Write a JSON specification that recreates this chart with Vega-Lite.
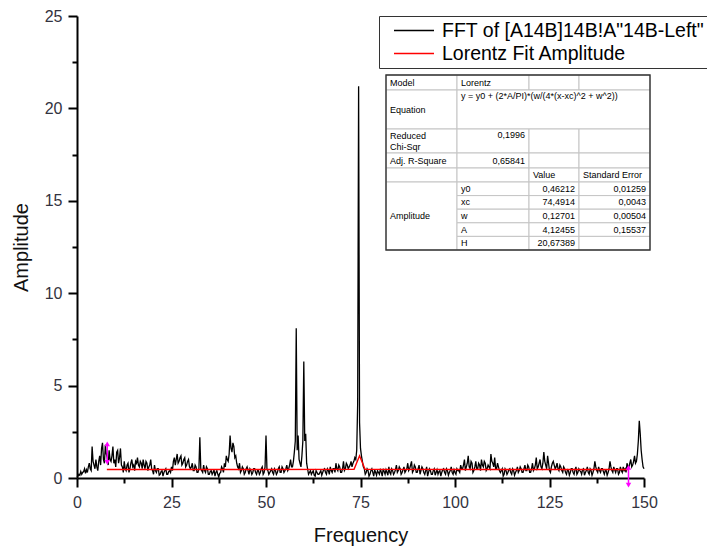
{
  "$schema": "https://vega.github.io/schema/vega-lite/v6.json",
  "width": 567,
  "height": 462,
  "autosize": {"type": "none"},
  "padding": {"left": 77, "top": 16, "right": 63, "bottom": 69},
  "background": "white",
  "config": {"view": {"stroke": null}, "font": "Liberation Sans"},
  "datasets": {
    "fft": [
      {"f":0,"a":0.05},{"f":0.5,"a":0.2},{"f":1,"a":0.35},{"f":1.5,"a":0.3},{"f":2,"a":0.5},{"f":2.5,"a":0.45},{"f":3,"a":0.6},{"f":3.5,"a":0.5},{"f":4,"a":1.7},{"f":4.5,"a":0.7},
      {"f":5,"a":1.0},{"f":5.5,"a":0.4},{"f":6,"a":1.2},{"f":6.5,"a":1.6},{"f":7,"a":1.0},{"f":7.5,"a":1.8},{"f":8,"a":1.1},{"f":8.5,"a":1.5},{"f":9,"a":0.9},{"f":9.5,"a":1.7},
      {"f":10,"a":1.0},{"f":10.5,"a":1.4},{"f":11,"a":0.8},{"f":11.5,"a":1.6},{"f":12,"a":0.6},{"f":12.5,"a":0.9},{"f":13,"a":0.4},{"f":13.5,"a":0.8},{"f":14,"a":0.5},{"f":14.5,"a":1.0},
      {"f":15,"a":0.7},{"f":15.5,"a":0.9},{"f":16,"a":1.1},{"f":16.5,"a":0.6},{"f":17,"a":0.8},{"f":17.5,"a":1.0},{"f":18,"a":0.5},{"f":18.5,"a":0.8},{"f":19,"a":0.6},{"f":19.5,"a":1.0},
      {"f":20,"a":0.4},{"f":20.5,"a":0.7},{"f":21,"a":0.3},{"f":21.5,"a":0.5},{"f":22,"a":0.2},{"f":22.5,"a":0.4},{"f":23,"a":0.3},{"f":23.5,"a":0.5},{"f":24,"a":0.2},{"f":24.5,"a":0.4},
      {"f":25,"a":0.6},{"f":25.5,"a":0.9},{"f":26,"a":0.7},{"f":26.5,"a":1.3},{"f":27,"a":0.9},{"f":27.5,"a":1.2},{"f":28,"a":0.8},{"f":28.5,"a":1.1},{"f":29,"a":0.7},{"f":29.5,"a":1.0},
      {"f":30,"a":0.5},{"f":30.5,"a":0.8},{"f":31,"a":0.4},{"f":31.5,"a":0.6},{"f":32,"a":0.3},{"f":32.5,"a":2.2},{"f":33,"a":0.4},{"f":33.5,"a":0.7},{"f":34,"a":0.3},{"f":34.5,"a":0.5},
      {"f":35,"a":0.2},{"f":35.5,"a":0.4},{"f":36,"a":0.3},{"f":36.5,"a":0.1},{"f":37,"a":0.4},{"f":37.5,"a":0.05},{"f":38,"a":0.3},{"f":38.5,"a":0.5},{"f":39,"a":0.8},{"f":39.5,"a":1.2},
      {"f":40,"a":0.9},{"f":40.5,"a":2.3},{"f":41,"a":1.4},{"f":41.5,"a":1.7},{"f":42,"a":1.2},{"f":42.5,"a":0.6},{"f":43,"a":0.8},{"f":43.5,"a":0.4},{"f":44,"a":0.5},{"f":44.5,"a":0.3},
      {"f":45,"a":0.6},{"f":45.5,"a":0.2},{"f":46,"a":0.4},{"f":46.5,"a":0.3},{"f":47,"a":0.5},{"f":47.5,"a":0.2},{"f":48,"a":0.4},{"f":48.5,"a":0.3},{"f":49,"a":0.6},{"f":49.5,"a":0.3},
      {"f":50,"a":2.3},{"f":50.5,"a":0.4},{"f":51,"a":0.3},{"f":51.5,"a":0.5},{"f":52,"a":0.2},{"f":52.5,"a":0.4},{"f":53,"a":0.3},{"f":53.5,"a":0.6},{"f":54,"a":0.3},{"f":54.5,"a":0.5},
      {"f":55,"a":0.4},{"f":55.5,"a":0.7},{"f":56,"a":0.5},{"f":56.5,"a":1.0},{"f":57,"a":0.6},{"f":57.5,"a":1.4},{"f":58,"a":8.1},{"f":58.5,"a":2.3},{"f":59,"a":0.8},{"f":59.5,"a":1.2},
      {"f":60,"a":6.3},{"f":60.5,"a":2.4},{"f":61,"a":0.5},{"f":61.5,"a":0.3},{"f":62,"a":0.2},{"f":62.5,"a":0.4},{"f":63,"a":0.1},{"f":63.5,"a":0.3},{"f":64,"a":0.2},{"f":64.5,"a":0.4},
      {"f":65,"a":0.3},{"f":65.5,"a":0.5},{"f":66,"a":0.2},{"f":66.5,"a":0.4},{"f":67,"a":0.6},{"f":67.5,"a":0.3},{"f":68,"a":0.5},{"f":68.5,"a":0.8},{"f":69,"a":0.4},{"f":69.5,"a":0.6},
      {"f":70,"a":0.3},{"f":70.5,"a":0.9},{"f":71,"a":0.5},{"f":71.5,"a":0.7},{"f":72,"a":0.6},{"f":72.5,"a":0.9},{"f":73,"a":0.8},{"f":73.5,"a":1.1},{"f":74,"a":1.5},{"f":74.25,"a":4.0},
      {"f":74.5,"a":21.2},{"f":74.75,"a":3.0},{"f":75,"a":1.6},{"f":75.5,"a":0.9},{"f":76,"a":0.5},{"f":76.5,"a":0.3},{"f":77,"a":0.4},{"f":77.5,"a":0.2},{"f":78,"a":0.5},{"f":78.5,"a":0.1},
      {"f":79,"a":0.3},{"f":79.5,"a":0.4},{"f":80,"a":0.2},{"f":80.5,"a":0.3},{"f":81,"a":0.5},{"f":81.5,"a":0.2},{"f":82,"a":0.3},{"f":82.5,"a":0.6},{"f":83,"a":0.2},{"f":83.5,"a":0.4},
      {"f":84,"a":0.3},{"f":84.5,"a":0.7},{"f":85,"a":0.4},{"f":85.5,"a":0.5},{"f":86,"a":0.3},{"f":86.5,"a":0.6},{"f":87,"a":0.4},{"f":87.5,"a":0.8},{"f":88,"a":0.5},{"f":88.5,"a":0.9},
      {"f":89,"a":0.4},{"f":89.5,"a":0.6},{"f":90,"a":0.3},{"f":90.5,"a":0.7},{"f":91,"a":0.4},{"f":91.5,"a":0.5},{"f":92,"a":0.2},{"f":92.5,"a":0.6},{"f":93,"a":0.3},{"f":93.5,"a":0.4},
      {"f":94,"a":0.2},{"f":94.5,"a":0.5},{"f":95,"a":0.3},{"f":95.5,"a":0.2},{"f":96,"a":0.4},{"f":96.5,"a":0.3},{"f":97,"a":0.5},{"f":97.5,"a":0.2},{"f":98,"a":0.4},{"f":98.5,"a":0.3},
      {"f":99,"a":0.6},{"f":99.5,"a":0.2},{"f":100,"a":0.3},{"f":100.5,"a":0.5},{"f":101,"a":0.4},{"f":101.5,"a":0.7},{"f":102,"a":0.5},{"f":102.5,"a":1.0},{"f":103,"a":0.6},{"f":103.5,"a":1.2},
      {"f":104,"a":0.5},{"f":104.5,"a":0.8},{"f":105,"a":0.4},{"f":105.5,"a":0.9},{"f":106,"a":0.5},{"f":106.5,"a":0.7},{"f":107,"a":1.0},{"f":107.5,"a":0.6},{"f":108,"a":0.8},{"f":108.5,"a":0.5},
      {"f":109,"a":0.6},{"f":109.5,"a":1.3},{"f":110,"a":0.8},{"f":110.5,"a":1.1},{"f":111,"a":0.5},{"f":111.5,"a":0.6},{"f":112,"a":0.3},{"f":112.5,"a":0.5},{"f":113,"a":0.2},{"f":113.5,"a":0.4},
      {"f":114,"a":0.3},{"f":114.5,"a":0.5},{"f":115,"a":0.2},{"f":115.5,"a":0.4},{"f":116,"a":0.3},{"f":116.5,"a":0.6},{"f":117,"a":0.4},{"f":117.5,"a":0.5},{"f":118,"a":0.3},{"f":118.5,"a":0.7},
      {"f":119,"a":0.4},{"f":119.5,"a":0.6},{"f":120,"a":0.3},{"f":120.5,"a":0.8},{"f":121,"a":0.5},{"f":121.5,"a":1.1},{"f":122,"a":0.6},{"f":122.5,"a":1.0},{"f":123,"a":0.5},{"f":123.5,"a":1.4},
      {"f":124,"a":0.7},{"f":124.5,"a":1.2},{"f":125,"a":0.4},{"f":125.5,"a":0.6},{"f":126,"a":0.9},{"f":126.5,"a":0.5},{"f":127,"a":0.8},{"f":127.5,"a":0.4},{"f":128,"a":0.6},{"f":128.5,"a":0.3},
      {"f":129,"a":0.5},{"f":129.5,"a":0.2},{"f":130,"a":0.4},{"f":130.5,"a":0.3},{"f":131,"a":0.5},{"f":131.5,"a":0.2},{"f":132,"a":0.6},{"f":132.5,"a":0.3},{"f":133,"a":0.4},{"f":133.5,"a":0.2},
      {"f":134,"a":0.5},{"f":134.5,"a":0.3},{"f":135,"a":0.6},{"f":135.5,"a":0.2},{"f":136,"a":0.4},{"f":136.5,"a":0.3},{"f":137,"a":0.9},{"f":137.5,"a":0.4},{"f":138,"a":0.6},{"f":138.5,"a":0.3},
      {"f":139,"a":0.5},{"f":139.5,"a":0.2},{"f":140,"a":0.4},{"f":140.5,"a":0.3},{"f":141,"a":0.9},{"f":141.5,"a":0.4},{"f":142,"a":0.6},{"f":142.5,"a":0.3},{"f":143,"a":0.5},{"f":143.5,"a":0.3},
      {"f":144,"a":0.4},{"f":144.5,"a":0.6},{"f":145,"a":0.5},{"f":145.5,"a":0.8},{"f":146,"a":0.6},{"f":146.5,"a":1.0},{"f":147,"a":0.7},{"f":147.5,"a":1.2},{"f":148,"a":0.9},{"f":148.5,"a":2.0},
      {"f":148.75,"a":3.1},{"f":149,"a":2.4},{"f":149.5,"a":1.0},{"f":150,"a":0.5},
      {"f":0.25,"a":0.1},{"f":0.75,"a":0.15},{"f":1.25,"a":0.2},{"f":1.75,"a":0.35},{"f":2.25,"a":0.25},{"f":2.75,"a":0.3},{"f":3.25,"a":0.8},{"f":3.75,"a":0.4},{"f":4.25,"a":0.9},{"f":4.75,"a":0.5},
      {"f":5.25,"a":0.6},{"f":5.75,"a":0.9},{"f":6.25,"a":0.7},{"f":6.75,"a":1.9},{"f":7.25,"a":0.8},{"f":7.75,"a":1.3},{"f":8.25,"a":0.7},{"f":8.75,"a":1.0},{"f":9.25,"a":1.2},{"f":9.75,"a":0.8},
      {"f":10.25,"a":0.6},{"f":10.75,"a":1.5},{"f":11.25,"a":1.1},{"f":11.75,"a":0.7},{"f":12.25,"a":0.3},{"f":12.75,"a":0.5},{"f":13.25,"a":0.7},{"f":13.75,"a":0.3},{"f":14.25,"a":0.8},{"f":14.75,"a":0.6},
      {"f":15.25,"a":0.4},{"f":15.75,"a":0.8},{"f":16.25,"a":0.7},{"f":16.75,"a":0.9},{"f":17.25,"a":0.5},{"f":17.75,"a":0.7},{"f":18.25,"a":0.9},{"f":18.75,"a":0.4},{"f":19.25,"a":0.7},{"f":19.75,"a":0.5},
      {"f":20.25,"a":0.2},{"f":20.75,"a":0.4},{"f":21.25,"a":0.5},{"f":21.75,"a":0.15},{"f":22.25,"a":0.35},{"f":22.75,"a":0.1},{"f":23.25,"a":0.4},{"f":23.75,"a":0.2},{"f":24.25,"a":0.35},{"f":24.75,"a":0.3},
      {"f":25.25,"a":0.4},{"f":25.75,"a":1.1},{"f":26.25,"a":1.0},{"f":26.75,"a":0.8},{"f":27.25,"a":1.1},{"f":27.75,"a":0.7},{"f":28.25,"a":1.0},{"f":28.75,"a":0.6},{"f":29.25,"a":0.9},{"f":29.75,"a":0.6},
      {"f":30.25,"a":0.6},{"f":30.75,"a":0.4},{"f":31.25,"a":0.7},{"f":31.75,"a":0.3},{"f":32.25,"a":0.5},{"f":32.75,"a":0.5},{"f":33.25,"a":0.3},{"f":33.75,"a":0.4},{"f":34.25,"a":0.6},{"f":34.75,"a":0.2},
      {"f":35.25,"a":0.35},{"f":35.75,"a":0.2},{"f":36.25,"a":0.45},{"f":36.75,"a":0.3},{"f":37.25,"a":0.2},{"f":37.75,"a":0.25},{"f":38.25,"a":0.6},{"f":38.75,"a":0.3},{"f":39.25,"a":0.6},{"f":39.75,"a":1.0},
      {"f":40.25,"a":1.3},{"f":40.75,"a":1.6},{"f":41.25,"a":1.9},{"f":41.75,"a":1.1},{"f":42.25,"a":0.8},{"f":42.75,"a":0.5},{"f":43.25,"a":0.3},{"f":43.75,"a":0.6},{"f":44.25,"a":0.2},{"f":44.75,"a":0.5},
      {"f":45.25,"a":0.4},{"f":45.75,"a":0.5},{"f":46.25,"a":0.2},{"f":46.75,"a":0.5},{"f":47.25,"a":0.3},{"f":47.75,"a":0.4},{"f":48.25,"a":0.2},{"f":48.75,"a":0.5},{"f":49.25,"a":0.2},{"f":49.75,"a":0.6},
      {"f":50.25,"a":0.5},{"f":50.75,"a":0.2},{"f":51.25,"a":0.4},{"f":51.75,"a":0.3},{"f":52.25,"a":0.5},{"f":52.75,"a":0.2},{"f":53.25,"a":0.5},{"f":53.75,"a":0.3},{"f":54.25,"a":0.6},{"f":54.75,"a":0.3},
      {"f":55.25,"a":0.5},{"f":55.75,"a":0.4},{"f":56.25,"a":0.7},{"f":56.75,"a":0.6},{"f":57.25,"a":0.9},{"f":57.75,"a":2.0},{"f":58.25,"a":1.5},{"f":58.75,"a":1.0},{"f":59.25,"a":0.6},{"f":59.75,"a":2.0},
      {"f":60.25,"a":2.0},{"f":60.75,"a":0.8},{"f":61.25,"a":0.2},{"f":61.75,"a":0.4},{"f":62.25,"a":0.3},{"f":62.75,"a":0.15},{"f":63.25,"a":0.4},{"f":63.75,"a":0.2},{"f":64.25,"a":0.3},{"f":64.75,"a":0.15},
      {"f":65.25,"a":0.45},{"f":65.75,"a":0.3},{"f":66.25,"a":0.5},{"f":66.75,"a":0.2},{"f":67.25,"a":0.4},{"f":67.75,"a":0.5},{"f":68.25,"a":0.3},{"f":68.75,"a":0.5},{"f":69.25,"a":0.7},{"f":69.75,"a":0.3},
      {"f":70.25,"a":0.5},{"f":70.75,"a":0.4},{"f":71.25,"a":0.8},{"f":71.75,"a":0.5},{"f":72.25,"a":0.7},{"f":72.75,"a":0.6},{"f":73.25,"a":0.9},{"f":73.75,"a":1.0},{"f":75.25,"a":1.2},{"f":75.75,"a":0.6},
      {"f":76.25,"a":0.2},{"f":76.75,"a":0.5},{"f":77.25,"a":0.1},{"f":77.75,"a":0.4},{"f":78.25,"a":0.3},{"f":78.75,"a":0.45},{"f":79.25,"a":0.15},{"f":79.75,"a":0.3},{"f":80.25,"a":0.5},{"f":80.75,"a":0.1},
      {"f":81.25,"a":0.35},{"f":81.75,"a":0.45},{"f":82.25,"a":0.15},{"f":82.75,"a":0.3},{"f":83.25,"a":0.5},{"f":83.75,"a":0.2},{"f":84.25,"a":0.45},{"f":84.75,"a":0.3},{"f":85.25,"a":0.6},{"f":85.75,"a":0.2},
      {"f":86.25,"a":0.45},{"f":86.75,"a":0.3},{"f":87.25,"a":0.5},{"f":87.75,"a":0.4},{"f":88.25,"a":0.7},{"f":88.75,"a":0.3},{"f":89.25,"a":0.7},{"f":89.75,"a":0.3},{"f":90.25,"a":0.5},{"f":90.75,"a":0.2},
      {"f":91.25,"a":0.6},{"f":91.75,"a":0.3},{"f":92.25,"a":0.4},{"f":92.75,"a":0.1},{"f":93.25,"a":0.5},{"f":93.75,"a":0.2},{"f":94.25,"a":0.4},{"f":94.75,"a":0.15},{"f":95.25,"a":0.45},{"f":95.75,"a":0.35},
      {"f":96.25,"a":0.1},{"f":96.75,"a":0.45},{"f":97.25,"a":0.3},{"f":97.75,"a":0.5},{"f":98.25,"a":0.15},{"f":98.75,"a":0.4},{"f":99.25,"a":0.3},{"f":99.75,"a":0.45},{"f":100.25,"a":0.2},{"f":100.75,"a":0.4},
      {"f":101.25,"a":0.3},{"f":101.75,"a":0.5},{"f":102.25,"a":0.7},{"f":102.75,"a":0.4},{"f":103.25,"a":0.8},{"f":103.75,"a":0.6},{"f":104.25,"a":0.9},{"f":104.75,"a":0.3},{"f":105.25,"a":0.6},{"f":105.75,"a":0.5},
      {"f":106.25,"a":0.8},{"f":106.75,"a":0.4},{"f":107.25,"a":0.7},{"f":107.75,"a":0.9},{"f":108.25,"a":0.4},{"f":108.75,"a":0.7},{"f":109.25,"a":0.5},{"f":109.75,"a":0.9},{"f":110.25,"a":0.6},{"f":110.75,"a":0.5},
      {"f":111.25,"a":0.8},{"f":111.75,"a":0.4},{"f":112.25,"a":0.4},{"f":112.75,"a":0.1},{"f":113.25,"a":0.5},{"f":113.75,"a":0.2},{"f":114.25,"a":0.45},{"f":114.75,"a":0.3},{"f":115.25,"a":0.5},{"f":115.75,"a":0.15},
      {"f":116.25,"a":0.4},{"f":116.75,"a":0.3},{"f":117.25,"a":0.6},{"f":117.75,"a":0.3},{"f":118.25,"a":0.5},{"f":118.75,"a":0.4},{"f":119.25,"a":0.7},{"f":119.75,"a":0.3},{"f":120.25,"a":0.5},{"f":120.75,"a":0.4},
      {"f":121.25,"a":0.7},{"f":121.75,"a":0.5},{"f":122.25,"a":0.8},{"f":122.75,"a":0.6},{"f":123.25,"a":0.8},{"f":123.75,"a":0.9},{"f":124.25,"a":0.5},{"f":124.75,"a":0.8},{"f":125.25,"a":0.3},{"f":125.75,"a":0.8},
      {"f":126.25,"a":0.7},{"f":126.75,"a":0.6},{"f":127.25,"a":0.5},{"f":127.75,"a":0.7},{"f":128.25,"a":0.4},{"f":128.75,"a":0.6},{"f":129.25,"a":0.3},{"f":129.75,"a":0.45},{"f":130.25,"a":0.15},{"f":130.75,"a":0.5},
      {"f":131.25,"a":0.3},{"f":131.75,"a":0.45},{"f":132.25,"a":0.2},{"f":132.75,"a":0.5},{"f":133.25,"a":0.35},{"f":133.75,"a":0.45},{"f":134.25,"a":0.15},{"f":134.75,"a":0.4},{"f":135.25,"a":0.3},{"f":135.75,"a":0.5},
      {"f":136.25,"a":0.15},{"f":136.75,"a":0.5},{"f":137.25,"a":0.6},{"f":137.75,"a":0.3},{"f":138.25,"a":0.4},{"f":138.75,"a":0.5},{"f":139.25,"a":0.35},{"f":139.75,"a":0.4},{"f":140.25,"a":0.15},{"f":140.75,"a":0.5},
      {"f":141.25,"a":0.6},{"f":141.75,"a":0.3},{"f":142.25,"a":0.45},{"f":142.75,"a":0.5},{"f":143.25,"a":0.2},{"f":143.75,"a":0.6},{"f":144.25,"a":0.3},{"f":144.75,"a":0.4},{"f":145.25,"a":0.3},{"f":145.75,"a":0.6},
      {"f":146.25,"a":0.8},{"f":146.75,"a":0.6},{"f":147.25,"a":0.9},{"f":147.75,"a":0.8},{"f":148.25,"a":1.3},{"f":149.25,"a":1.5},{"f":149.75,"a":0.6}
    ],
    "fit": [
      {"f":7.9,"a":0.46,"s":"Lorentz Fit Amplitude"},{"f":40,"a":0.46,"s":"Lorentz Fit Amplitude"},{"f":73.3,"a":0.47,"s":"Lorentz Fit Amplitude"},
      {"f":74.75,"a":1.2,"s":"Lorentz Fit Amplitude"},{"f":76.2,"a":0.47,"s":"Lorentz Fit Amplitude"},{"f":110,"a":0.46,"s":"Lorentz Fit Amplitude"},
      {"f":145.9,"a":0.46,"s":"Lorentz Fit Amplitude"}
    ],
    "markers": [
      {"f":8.0,"lo":0.84,"hi":1.84},
      {"f":145.9,"lo":-0.38,"hi":0.57}
    ],
    "cells": [
      {"c0":0,"c1":1,"r0":0,"r1":1},{"c0":1,"c1":2,"r0":0,"r1":1},{"c0":2,"c1":3,"r0":0,"r1":1},{"c0":3,"c1":4,"r0":0,"r1":1},
      {"c0":0,"c1":1,"r0":1,"r1":2},{"c0":1,"c1":4,"r0":1,"r1":2},
      {"c0":0,"c1":1,"r0":2,"r1":3},{"c0":1,"c1":2,"r0":2,"r1":3},{"c0":2,"c1":3,"r0":2,"r1":3},{"c0":3,"c1":4,"r0":2,"r1":3},
      {"c0":0,"c1":1,"r0":3,"r1":4},{"c0":1,"c1":2,"r0":3,"r1":4},{"c0":2,"c1":3,"r0":3,"r1":4},{"c0":3,"c1":4,"r0":3,"r1":4},
      {"c0":0,"c1":1,"r0":4,"r1":5},{"c0":1,"c1":2,"r0":4,"r1":5},{"c0":2,"c1":3,"r0":4,"r1":5},{"c0":3,"c1":4,"r0":4,"r1":5},
      {"c0":0,"c1":1,"r0":5,"r1":10},
      {"c0":1,"c1":2,"r0":5,"r1":6},{"c0":2,"c1":3,"r0":5,"r1":6},{"c0":3,"c1":4,"r0":5,"r1":6},
      {"c0":1,"c1":2,"r0":6,"r1":7},{"c0":2,"c1":3,"r0":6,"r1":7},{"c0":3,"c1":4,"r0":6,"r1":7},
      {"c0":1,"c1":2,"r0":7,"r1":8},{"c0":2,"c1":3,"r0":7,"r1":8},{"c0":3,"c1":4,"r0":7,"r1":8},
      {"c0":1,"c1":2,"r0":8,"r1":9},{"c0":2,"c1":3,"r0":8,"r1":9},{"c0":3,"c1":4,"r0":8,"r1":9},
      {"c0":1,"c1":2,"r0":9,"r1":10},{"c0":2,"c1":3,"r0":9,"r1":10},{"c0":3,"c1":4,"r0":9,"r1":10}
    ],
    "frame": [{"c0":0,"c1":4,"r0":0,"r1":10}],
    "txtL": [
      {"c":0,"r":0.5,"t":"Model"},{"c":1,"r":0.5,"t":"Lorentz"},{"c":0,"r":1.5,"t":"Equation"},
      {"c":0,"r":2.3,"t":"Reduced"},{"c":0,"r":2.75,"t":"Chi-Sqr"},{"c":0,"r":3.5,"t":"Adj. R-Square"},
      {"c":2,"r":4.5,"t":"Value"},{"c":3,"r":4.5,"t":"Standard Error"},
      {"c":0,"r":7.5,"t":"Amplitude"},
      {"c":1,"r":5.5,"t":"y0"},{"c":1,"r":6.5,"t":"xc"},{"c":1,"r":7.5,"t":"w"},{"c":1,"r":8.5,"t":"A"},{"c":1,"r":9.5,"t":"H"}
    ],
    "txtR": [
      {"c":2,"r":3.5,"t":"0,65841"},
      {"c":3,"r":5.5,"t":"0,46212"},{"c":3,"r":6.5,"t":"74,4914"},{"c":3,"r":7.5,"t":"0,12701"},{"c":3,"r":8.5,"t":"4,12455"},{"c":3,"r":9.5,"t":"20,67389"},
      {"c":4,"r":5.5,"t":"0,01259"},{"c":4,"r":6.5,"t":"0,0043"},{"c":4,"r":7.5,"t":"0,00504"},{"c":4,"r":8.5,"t":"0,15537"}
    ],
    "txtLT": [{"c":1,"r":1,"t":"y = y0 + (2*A/PI)*(w/(4*(x-xc)^2 + w^2))"}],
    "txtRT": [{"c":2,"r":2,"t":"0,1996"}]
  },
  "layer": [
    {
      "layer": [
        {
          "data": {"name": "fft"},
          "mark": {"type": "line", "strokeWidth": 1.3, "color": "#000000"},
          "encoding": {
            "x": {"field": "f", "type": "quantitative",
              "scale": {"domain": [0, 150], "nice": false, "zero": false},
              "axis": {"orient": "bottom", "values": [0, 25, 50, 75, 100, 125, 150], "grid": false, "labelFlush": false,
                "domainColor": "#000", "domainWidth": 2, "tickColor": "#000", "tickWidth": 2, "tickSize": 9,
                "labelFontSize": 16, "labelFont": "Liberation Sans", "labelColor": "#333340", "labelPadding": 7,
                "title": "Frequency", "titleFontSize": 20, "titleFont": "Liberation Sans", "titleFontWeight": "normal",
                "titleColor": "#111", "titlePadding": 15}},
            "y": {"field": "a", "type": "quantitative",
              "scale": {"domain": [0, 25], "nice": false, "zero": false},
              "axis": {"orient": "left", "values": [0, 5, 10, 15, 20, 25], "grid": false, "labelFlush": false,
                "domainColor": "#000", "domainWidth": 2, "tickColor": "#000", "tickWidth": 2, "tickSize": 9,
                "labelFontSize": 16, "labelFont": "Liberation Sans", "labelColor": "#333340", "labelPadding": 6,
                "title": "Amplitude", "titleFontSize": 20, "titleFont": "Liberation Sans", "titleFontWeight": "normal",
                "titleColor": "#111", "titlePadding": 13}}
          }
        },
        {
          "data": {"name": "fit"},
          "mark": {"type": "line", "strokeWidth": 1.4},
          "encoding": {
            "x": {"field": "f", "type": "quantitative",
              "axis": {"orient": "bottom", "values": [12.5, 37.5, 62.5, 87.5, 112.5, 137.5], "labels": false, "domain": false,
                "grid": false, "tickColor": "#000", "tickWidth": 2, "tickSize": 5, "title": null}},
            "y": {"field": "a", "type": "quantitative",
              "axis": {"orient": "left", "values": [2.5, 7.5, 12.5, 17.5, 22.5], "labels": false, "domain": false,
                "grid": false, "tickColor": "#000", "tickWidth": 2, "tickSize": 5, "title": null}},
            "color": {"field": "s", "type": "nominal",
              "scale": {"domain": ["FFT of [A14B]14B!A\"14B-Left\"", "Lorentz Fit Amplitude"], "range": ["#000000", "#ff0000"]},
              "legend": {"title": null, "orient": "none", "legendX": 302, "legendY": 0,
                "symbolType": "stroke", "symbolSize": 1600, "symbolStrokeWidth": 1.4, "symbolOffset": 9, "clipHeight": 19,
                "labelFontSize": 19.5, "labelFont": "Liberation Sans", "labelColor": "#000", "labelOffset": 7,
                "rowPadding": 3, "padding": 5, "strokeColor": "#333", "fillColor": "white", "labelLimit": 400,
                "encode": {"symbols": {"update": {"stroke": {"scale": "color", "field": "value"}}}}}}
          }
        },
        {
          "data": {"name": "markers"},
          "mark": {"type": "rule", "color": "#ff00ff", "strokeWidth": 1.5},
          "encoding": {
            "x": {"field": "f", "type": "quantitative", "axis": null},
            "y": {"field": "lo", "type": "quantitative", "axis": null},
            "y2": {"field": "hi"}
          }
        },
        {
          "data": {"name": "markers"},
          "mark": {"type": "point", "shape": "triangle-up", "filled": true, "color": "#ff00ff", "size": 30, "opacity": 1},
          "encoding": {
            "x": {"field": "f", "type": "quantitative", "axis": null},
            "y": {"field": "hi", "type": "quantitative", "axis": null}
          }
        },
        {
          "data": {"name": "markers"},
          "mark": {"type": "point", "shape": "triangle-down", "filled": true, "color": "#ff00ff", "size": 30, "opacity": 1},
          "encoding": {
            "x": {"field": "f", "type": "quantitative", "axis": null},
            "y": {"field": "lo", "type": "quantitative", "axis": null}
          }
        }
      ],
      "resolve": {"axis": {"x": "independent", "y": "independent"}}
    },
    {
      "layer": [
        {
          "data": {"name": "cells"},
          "mark": {"type": "rect", "fill": "white", "stroke": "#c4c4c4", "strokeWidth": 1},
          "encoding": {
            "x": {"field": "c0", "type": "quantitative", "axis": null,
              "scale": {"domain": [0, 1, 2, 3, 4], "range": [309, 380, 452, 502, 573], "zero": false, "nice": false}},
            "x2": {"field": "c1"},
            "y": {"field": "r0", "type": "quantitative", "axis": null,
              "scale": {"domain": [0, 1, 2, 3, 4, 5, 6, 7, 8, 9, 10], "range": [59, 74, 113, 137, 152, 166, 179.6, 193.2, 206.8, 220.4, 234], "zero": false, "nice": false}},
            "y2": {"field": "r1"}
          }
        },
        {
          "data": {"name": "frame"},
          "mark": {"type": "rect", "fill": null, "stroke": "#333", "strokeWidth": 1.4},
          "encoding": {
            "x": {"field": "c0", "type": "quantitative", "axis": null},
            "x2": {"field": "c1"},
            "y": {"field": "r0", "type": "quantitative", "axis": null},
            "y2": {"field": "r1"}
          }
        },
        {
          "data": {"name": "txtL"},
          "mark": {"type": "text", "align": "left", "baseline": "middle", "dx": 4, "fontSize": 9, "font": "Liberation Sans", "color": "#000"},
          "encoding": {
            "x": {"field": "c", "type": "quantitative", "axis": null},
            "y": {"field": "r", "type": "quantitative", "axis": null},
            "text": {"field": "t"}
          }
        },
        {
          "data": {"name": "txtR"},
          "mark": {"type": "text", "align": "right", "baseline": "middle", "dx": -4, "fontSize": 9, "font": "Liberation Sans", "color": "#000"},
          "encoding": {
            "x": {"field": "c", "type": "quantitative", "axis": null},
            "y": {"field": "r", "type": "quantitative", "axis": null},
            "text": {"field": "t"}
          }
        },
        {
          "data": {"name": "txtLT"},
          "mark": {"type": "text", "align": "left", "baseline": "top", "dx": 4, "dy": 2, "fontSize": 9, "font": "Liberation Sans", "color": "#000"},
          "encoding": {
            "x": {"field": "c", "type": "quantitative", "axis": null},
            "y": {"field": "r", "type": "quantitative", "axis": null},
            "text": {"field": "t"}
          }
        },
        {
          "data": {"name": "txtRT"},
          "mark": {"type": "text", "align": "right", "baseline": "top", "dx": -4, "dy": 2, "fontSize": 9, "font": "Liberation Sans", "color": "#000"},
          "encoding": {
            "x": {"field": "c", "type": "quantitative", "axis": null},
            "y": {"field": "r", "type": "quantitative", "axis": null},
            "text": {"field": "t"}
          }
        }
      ]
    }
  ],
  "resolve": {"scale": {"x": "independent", "y": "independent"}}
}
